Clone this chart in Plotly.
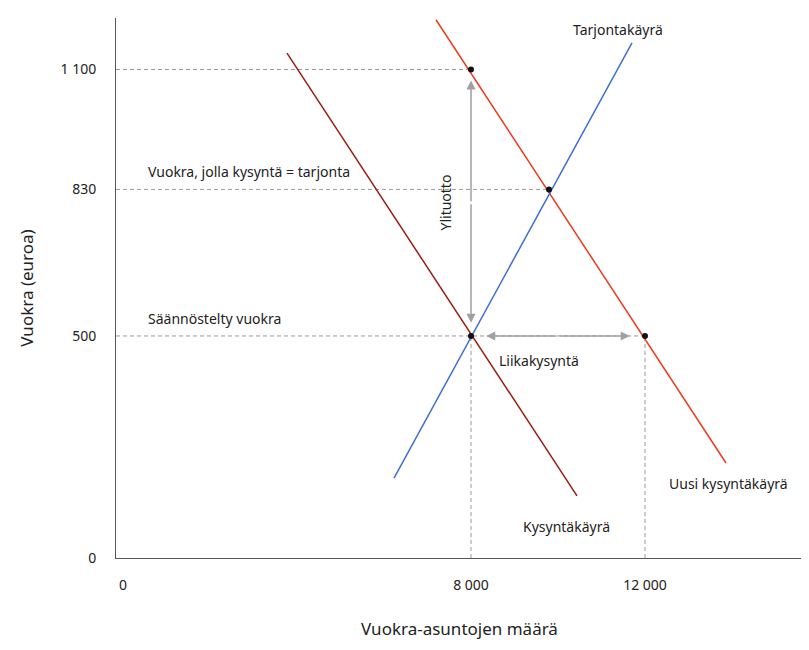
import plotly.graph_objects as go

demand_x = [3770, 10437]; demand_y = [1137, 140]
new_demand_x = [7195, 13862]; new_demand_y = [1212, 214]
supply_x = [6230, 11701]; supply_y = [180, 1160]
points_x = [8000, 9793, 8000, 12000]; points_y = [1100, 830, 500, 500]
x_ticks = [0, 8000, 12000]; x_labels = ["0", "8 000", "12 000"]
y_ticks = [0, 500, 830, 1100]; y_labels = ["0", "500", "830", "1 100"]

fig = go.Figure()
fig.add_trace(go.Scatter(x=demand_x, y=demand_y, mode="lines", line=dict(color="#9b1c14", width=1.5)))
fig.add_trace(go.Scatter(x=new_demand_x, y=new_demand_y, mode="lines", line=dict(color="#ec3a1e", width=1.5)))
fig.add_trace(go.Scatter(x=supply_x, y=supply_y, mode="lines", line=dict(color="#3d6fd0", width=1.5)))
for (x0, y0, x1, y1) in [(-161, 1100, 8000, 1100), (-161, 830, 9793, 830), (-161, 500, 12000, 500),
                         (8000, 0, 8000, 500), (12000, 0, 12000, 500)]:
    fig.add_shape(type="line", x0=x0, y0=y0, x1=x1, y1=y1, line=dict(color="#999", width=1, dash="4px,3px"), layer="below")
fig.add_trace(go.Scatter(x=points_x, y=points_y, mode="markers", marker=dict(color="#111", size=6)))
for (ax, ay, x, y) in [(8000, 800, 8000, 1075), (8000, 800, 8000, 530), (10000, 500, 8350, 500), (10000, 500, 11650, 500)]:
    fig.add_annotation(x=x, y=y, ax=ax, ay=ay, xref="x", yref="y", axref="x", ayref="y", text="",
                       showarrow=True, arrowhead=2, arrowsize=1.2, arrowwidth=1.5, arrowcolor="#a0a0a0")
txt = [("Tarjontakäyrä", 10300, 1190, "left", 0), ("Uusi kysyntäkäyrä", 12500, 168, "left", 0),
       ("Kysyntäkäyrä", 9150, 70, "left", 0), ("Liikakysyntä", 8600, 445, "left", 0),
       ("Vuokra, jolla kysyntä = tarjonta", 520, 870, "left", 0), ("Säännöstelty vuokra", 520, 540, "left", 0),
       ("Ylituotto", 7420, 800, "center", -90)]
for t, x, y, al, ang in txt:
    fig.add_annotation(x=x, y=y, text=t, showarrow=False, xanchor=al if ang == 0 else "center",
                       textangle=ang, font=dict(size=14, color="#222"))
fig.update_layout(width=809, height=650, showlegend=False, plot_bgcolor="white", paper_bgcolor="white",
                  margin=dict(l=108, r=14, t=10, b=100), font=dict(family="Noto Sans", size=14, color="#222"))
fig.update_xaxes(range=[-161, 15632], tickvals=x_ticks, ticktext=x_labels, showgrid=False, zeroline=False,
                 showline=True, linecolor="#555", ticks="", ticklabelstandoff=14, automargin=False,
                 title=dict(text="Vuokra-asuntojen määrä", font=dict(size=17), standoff=30))
fig.update_yaxes(range=[0, 1216], tickvals=y_ticks, ticktext=y_labels, showgrid=False, zeroline=False,
                 showline=True, linecolor="#555", ticks="", ticklabelstandoff=16, automargin=False,
                 title=dict(text="Vuokra (euroa)", font=dict(size=17), standoff=22))
fig.write_html("out.html")
